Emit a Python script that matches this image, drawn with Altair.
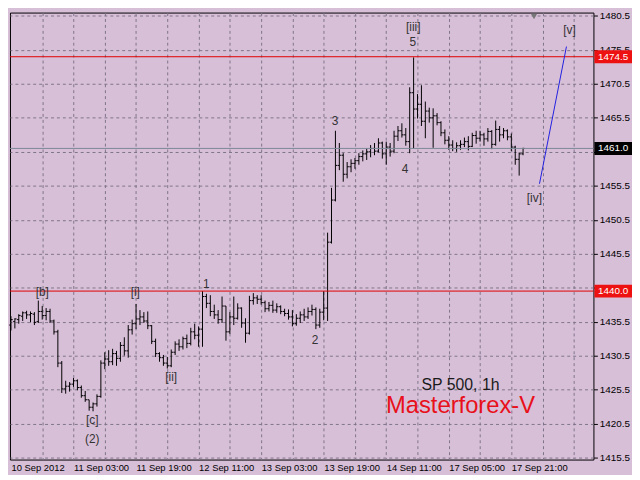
import altair as alt
import pandas as pd

# ---------------- data ----------------
opens = [1435.0, 1435.5, 1435.8, 1436.3, 1436.8, 1436.5, 1436.6, 1435.5, 1437.0, 1436.4,
         1437.0, 1435.6, 1434.0, 1429.4, 1425.6, 1426.0, 1426.3, 1426.8, 1425.8, 1424.6,
         1424.0, 1422.9, 1423.4, 1424.5, 1429.4, 1430.0, 1429.6, 1430.8, 1430.1, 1432.0,
         1431.2, 1434.3, 1435.2, 1435.9, 1436.2, 1435.6, 1434.9, 1432.6, 1430.8, 1430.2,
         1429.4, 1429.0, 1431.0, 1432.2, 1431.8, 1433.0, 1432.3, 1434.0, 1433.5, 1434.4,
         1439.2, 1438.2, 1437.0, 1436.5, 1435.8, 1437.8, 1434.0, 1436.2, 1436.0, 1437.5,
         1435.3, 1433.8, 1438.6, 1439.0, 1438.8, 1438.3, 1437.4, 1437.9, 1437.2, 1437.7,
         1437.0, 1436.7, 1436.2, 1435.2, 1436.0, 1436.5, 1436.2, 1437.0, 1437.3, 1435.0,
         1436.9, 1437.5, 1447.2, 1453.4, 1458.5, 1460.0, 1457.2, 1458.3, 1458.8, 1459.2,
         1459.8, 1460.2, 1460.5, 1461.0, 1460.6, 1461.8, 1460.2, 1461.2, 1460.6, 1462.8,
         1463.6, 1463.0, 1462.0, 1469.2, 1466.8, 1467.5, 1465.0, 1466.5, 1465.5, 1465.8,
         1464.8, 1463.3, 1462.2, 1461.5, 1461.0, 1461.4, 1461.6, 1462.0, 1461.3, 1462.9,
         1462.5, 1463.0, 1462.4, 1463.5, 1461.6, 1463.8, 1463.0, 1463.6, 1462.7, 1461.2,
         1459.4, 1460.2]
highs = [1436.3, 1436.0, 1436.6, 1437.0, 1437.1, 1437.0, 1436.9, 1438.6, 1437.8, 1437.5,
         1437.4, 1435.8, 1434.3, 1429.7, 1426.8, 1426.6, 1427.2, 1427.0, 1426.1, 1425.3,
         1424.0, 1423.6, 1424.8, 1429.8, 1431.0, 1431.3, 1431.5, 1431.2, 1432.5, 1433.2,
         1435.0, 1435.8, 1438.1, 1437.2, 1436.9, 1437.0, 1435.0, 1433.0, 1431.0, 1430.6,
         1430.3, 1431.4, 1432.6, 1432.9, 1433.3, 1433.6, 1434.6, 1435.2, 1434.8, 1440.0,
         1439.6, 1439.4, 1438.0, 1437.2, 1439.2, 1437.8, 1436.9, 1439.2, 1438.2, 1437.6,
         1436.0, 1439.3, 1439.7, 1439.4, 1439.4, 1438.6, 1438.4, 1438.6, 1438.2, 1437.9,
         1437.4, 1437.3, 1437.2, 1436.6, 1437.0, 1437.4, 1437.6, 1438.0, 1437.6, 1437.4,
         1440.0, 1448.6, 1455.2, 1463.6, 1461.8, 1460.3, 1459.0, 1459.4, 1459.6, 1460.3,
         1460.7, 1461.0, 1461.5, 1461.8, 1462.5, 1462.0, 1462.0, 1461.8, 1463.6, 1464.3,
         1464.7, 1464.0, 1470.0, 1474.4, 1469.0, 1470.3, 1467.9, 1467.0, 1466.9, 1466.2,
         1465.0, 1463.8, 1462.8, 1462.2, 1461.9, 1462.2, 1462.6, 1462.8, 1463.3, 1463.6,
         1463.6, 1463.3, 1464.0, 1463.7, 1465.1, 1464.3, 1464.0, 1463.8, 1463.2, 1461.4,
         1460.4, 1461.1]
lows = [1434.2, 1434.5, 1435.2, 1435.6, 1435.9, 1435.4, 1435.0, 1435.3, 1435.8, 1435.7,
        1435.3, 1433.6, 1428.8, 1425.0, 1424.9, 1425.2, 1425.9, 1425.4, 1424.3, 1423.7,
        1422.4, 1422.3, 1423.0, 1424.3, 1428.5, 1429.0, 1429.1, 1429.0, 1429.6, 1430.5,
        1430.2, 1433.6, 1434.4, 1435.0, 1435.3, 1434.4, 1432.2, 1430.3, 1429.6, 1429.0,
        1428.6, 1428.8, 1430.6, 1431.2, 1431.4, 1431.6, 1432.0, 1432.9, 1431.8, 1431.8,
        1437.5, 1436.3, 1435.9, 1435.2, 1435.3, 1432.7, 1433.7, 1435.0, 1435.8, 1434.6,
        1432.4, 1433.6, 1438.0, 1438.1, 1438.0, 1436.9, 1437.0, 1436.8, 1436.8, 1436.6,
        1436.3, 1435.8, 1434.8, 1434.9, 1435.3, 1435.6, 1435.9, 1436.4, 1434.4, 1434.6,
        1435.7, 1435.6, 1447.0, 1453.2, 1457.8, 1456.1, 1456.6, 1457.5, 1458.0, 1458.6,
        1459.1, 1459.3, 1459.7, 1460.0, 1460.4, 1459.5, 1458.6, 1459.8, 1460.3, 1462.1,
        1462.6, 1461.4, 1460.3, 1461.0, 1465.4, 1464.3, 1462.5, 1464.8, 1461.1, 1464.4,
        1462.8, 1461.6, 1460.8, 1460.6, 1460.5, 1460.8, 1461.2, 1460.7, 1461.2, 1461.7,
        1462.0, 1461.4, 1462.0, 1460.9, 1461.4, 1462.0, 1462.5, 1462.2, 1460.6, 1458.6,
        1457.0, 1460.0]
closes = [1435.8, 1435.9, 1436.4, 1436.8, 1436.5, 1436.7, 1435.4, 1437.0, 1436.4, 1437.0,
          1435.6, 1434.0, 1429.4, 1425.6, 1426.0, 1426.3, 1426.8, 1425.8, 1424.6, 1424.0,
          1422.9, 1423.4, 1424.5, 1429.4, 1430.0, 1429.6, 1430.8, 1430.1, 1432.0, 1431.2,
          1434.3, 1435.2, 1435.9, 1436.2, 1435.6, 1434.9, 1432.6, 1430.8, 1430.2, 1429.4,
          1429.0, 1431.0, 1432.2, 1431.8, 1433.0, 1432.3, 1434.0, 1433.5, 1434.4, 1439.2,
          1438.2, 1437.0, 1436.5, 1435.8, 1437.8, 1434.0, 1436.2, 1436.0, 1437.5, 1435.3,
          1433.8, 1438.6, 1439.0, 1438.8, 1438.3, 1437.4, 1437.9, 1437.2, 1437.7, 1437.0,
          1436.7, 1436.2, 1435.2, 1436.0, 1436.5, 1436.2, 1437.0, 1437.3, 1435.0, 1436.9,
          1437.5, 1447.2, 1453.4, 1458.5, 1460.0, 1457.2, 1458.3, 1458.8, 1459.2, 1459.8,
          1460.2, 1460.5, 1461.0, 1460.6, 1461.8, 1460.2, 1461.2, 1460.6, 1462.8, 1463.6,
          1463.0, 1462.0, 1469.2, 1466.8, 1467.5, 1465.0, 1466.5, 1465.5, 1465.8, 1464.8,
          1463.3, 1462.2, 1461.5, 1461.0, 1461.4, 1461.6, 1462.0, 1461.3, 1462.9, 1462.5,
          1463.0, 1462.4, 1463.5, 1461.6, 1463.8, 1463.0, 1463.6, 1462.7, 1461.2, 1459.4,
          1460.2, 1461.0]
bar_index = list(range(len(closes)))

price_ticks = [1415.5, 1420.5, 1425.5, 1430.5, 1435.5, 1440.5, 1445.5,
               1450.5, 1455.5, 1460.5, 1465.5, 1470.5, 1475.5, 1480.5]
time_tick_index = [0, 16, 32, 48, 64, 80, 96, 112, 128]
time_tick_labels = ["10 Sep 2012", "11 Sep 03:00", "11 Sep 19:00", "12 Sep 11:00",
                    "13 Sep 03:00", "13 Sep 19:00", "14 Sep 11:00", "17 Sep 05:00",
                    "17 Sep 21:00"]
grid_index = [0, 8, 16, 24, 32, 40, 48, 56, 64, 72, 80, 88, 96, 104, 112, 120, 128, 136, 144]

level_values = [1474.5, 1461.0, 1440.0]
level_kind = ["line", "bid", "line"]

wave_text = ["[b]", "[c]", "(2)", "[i]", "[ii]", "1", "2", "3", "4", "5", "[iii]", "[iv]", "[v]"]
wave_bar = [8.0, 20.8, 20.8, 31.8, 41.0, 50.0, 77.8, 82.9, 100.8, 102.8, 102.9, 133.9, 142.9]
wave_price = [1439.8, 1421.0, 1418.2, 1439.9, 1427.3, 1441.1, 1432.8, 1465.0, 1457.9,
              1476.6, 1478.8, 1453.7, 1478.4]

forecast_bar = [135.2, 142.1]
forecast_price = [1455.8, 1476.0]

caption_title = ["SP 500, 1h"]
caption_brand = ["Masterforex-V"]
caption_bar = [115.0]
caption_title_price = [1426.2]
caption_brand_price = [1423.0]

shift_marker_bar = [133.8]

# ---------------- styles ----------------
W, H = 590, 452
BG = "#D8BFD8"
GRID = "#7d7489"
FONT = "Liberation Sans"

bars = pd.DataFrame({"i": bar_index, "open": opens, "high": highs,
                     "low": lows, "close": closes})
levels = pd.DataFrame({"level": level_values, "kind": level_kind})
waves = pd.DataFrame({"t": wave_text, "i": wave_bar, "p": wave_price})
forecast = pd.DataFrame({"i": forecast_bar, "p": forecast_price})
title_df = pd.DataFrame({"t": caption_title, "i": caption_bar, "p": caption_title_price})
brand_df = pd.DataFrame({"t": caption_brand, "i": caption_bar, "p": caption_brand_price})
marker_df = pd.DataFrame({"i": shift_marker_bar, "p": [1481.0]})

xs = alt.Scale(domain=[-0.25, 149.0], nice=False, zero=False)
ys = alt.Scale(domain=[1415.2, 1481.0], nice=False, zero=False)

label_expr = "".join(f"datum.value == {k} ? '{t}' : " for k, t in
                     zip(time_tick_index, time_tick_labels)) + "''"

x_axis = alt.Axis(values=grid_index, labelExpr=label_expr, grid=True,
                  gridDash=[3, 3], gridColor=GRID, gridWidth=1,
                  gridOpacity={"condition": {"test": "datum.value == 0", "value": 0}, "value": 1},
                  ticks=False, domain=False, labelAlign="left", labelFlush=False,
                  labelOverlap=False, labelPadding=3, labelFont=FONT,
                  labelFontSize=9.5, labelColor="black", title=None)
y_axis = alt.Axis(orient="right", values=price_ticks, format=".1f", grid=True,
                  gridDash=[3, 3], gridColor=GRID, gridWidth=1, ticks=True,
                  tickColor="black", tickSize=4, domain=False, labelPadding=2,
                  labelFont=FONT, labelFontSize=10, labelColor="black",
                  labelOverlap=False, labelFlush=False, title=None)


def X(field):
    return alt.X(field, scale=xs, axis=x_axis)


def Y(field):
    return alt.Y(field, scale=ys, axis=y_axis)


hl = alt.Chart(bars).mark_rule(color="black", strokeWidth=1).encode(
    x=X("i:Q"), y=Y("low:Q"), y2="high:Q",
)
op = alt.Chart(bars).transform_calculate(xl="datum.i - 0.45").mark_rule(
    color="black", strokeWidth=1).encode(x=X("xl:Q"), x2="i:Q", y=Y("open:Q"))
cl = alt.Chart(bars).transform_calculate(xr="datum.i + 0.45").mark_rule(
    color="black", strokeWidth=1).encode(x=X("i:Q"), x2="xr:Q", y=Y("close:Q"))

kind_line = alt.Scale(domain=["line", "bid"], range=["#e00000", "#7a8899"])
kind_tag = alt.Scale(domain=["line", "bid"], range=["#ee1111", "#000000"])

lv = alt.Chart(levels).mark_rule(strokeWidth=1).encode(
    y=Y("level:Q"),
    color=alt.Color("kind:N", scale=kind_line, legend=None),
)
tag_rect = alt.Chart(levels).transform_calculate(
    top="datum.level + 0.95", bot="datum.level - 0.95").mark_rect().encode(
    x=alt.value(W + 1), x2=alt.value(W + 39),
    y=Y("top:Q"), y2="bot:Q",
    fill=alt.Fill("kind:N", scale=kind_tag, legend=None),
)
tag_text = alt.Chart(levels).mark_text(
    color="white", font=FONT, fontSize=10, align="center", baseline="middle").encode(
    x=alt.value(W + 20), y=Y("level:Q"),
    text=alt.Text("level:Q", format=".1f"),
)

fc = alt.Chart(forecast).mark_line(color="#2020e0", strokeWidth=1).encode(
    x=X("i:Q"), y=Y("p:Q"),
)

wv = alt.Chart(waves).mark_text(font=FONT, fontSize=12, color="#333333",
                                align="center", baseline="middle").encode(
    x=X("i:Q"), y=Y("p:Q"), text="t:N",
)

ttl = alt.Chart(title_df).mark_text(font=FONT, fontSize=16, color="#1a1a1a",
                                    align="center", baseline="middle").encode(
    x=X("i:Q"), y=Y("p:Q"), text="t:N",
)
brand = alt.Chart(brand_df).mark_text(font=FONT, fontSize=24, color="#e8101a",
                                      align="center", baseline="middle").encode(
    x=X("i:Q"), y=Y("p:Q"), text="t:N",
)

mk = alt.Chart(marker_df).mark_point(shape="triangle-down", filled=True,
                                     color="#777777", opacity=1, size=40,
                                     yOffset=4).encode(
    x=X("i:Q"), y=Y("p:Q"),
)

chart = alt.layer(hl, op, cl, lv, fc, wv, ttl, brand, mk, tag_rect, tag_text).properties(
    width=W, height=H, padding={"left": 0, "top": 0, "right": 0, "bottom": 0},
    background=BG,
).resolve_scale(color="independent").configure_view(
    stroke="black", strokeWidth=1, fill=BG
)

chart.save("out.html", embed_options={"renderer": "svg", "actions": False})
